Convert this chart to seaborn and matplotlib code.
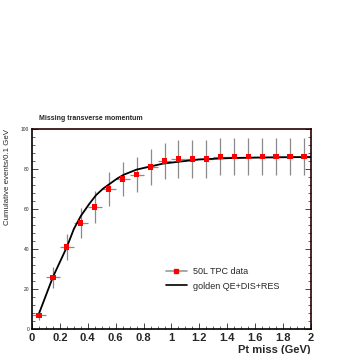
import numpy as np
import pandas as pd
import matplotlib
matplotlib.use("Agg")
import matplotlib.pyplot as plt
import seaborn as sns
from matplotlib.lines import Line2D
from matplotlib.ticker import MultipleLocator

# Data
bin_centers = [0.05, 0.15, 0.25, 0.35, 0.45, 0.55, 0.65, 0.75, 0.85, 0.95,
               1.05, 1.15, 1.25, 1.35, 1.45, 1.55, 1.65, 1.75, 1.85, 1.95]
events = [6.9, 25.8, 41.0, 53.0, 61.0, 70.0, 75.0, 77.2, 81.0, 84.0,
          85.0, 85.0, 85.0, 86.2, 86.2, 86.2, 86.2, 86.2, 86.2, 86.2]
event_err = [2.6, 5.2, 6.5, 7.5, 7.8, 8.5, 8.7, 8.7, 9.2, 9.2,
             9.4, 9.4, 9.4, 9.4, 9.4, 9.4, 9.4, 9.4, 9.4, 9.4]
bin_half_width = [0.05] * 20

curve_x = [0.05, 0.15, 0.25, 0.30, 0.35, 0.41, 0.46, 0.51, 0.56, 0.61, 0.66,
           0.75, 0.85, 0.94, 1.06, 1.2, 1.4, 1.6, 1.8, 2.0]
curve_y = [7.7, 26.0, 41.0, 50.0, 56.5, 62.5, 67.0, 70.2, 72.7, 75.2, 77.2,
           79.7, 81.3, 82.7, 83.7, 84.8, 85.4, 85.7, 85.9, 86.0]

x_ticks = [0, 0.2, 0.4, 0.6, 0.8, 1.0, 1.2, 1.4, 1.6, 1.8, 2.0]
x_tick_labels = ["0", "0.2", "0.4", "0.6", "0.8", "1", "1.2", "1.4", "1.6", "1.8", "2"]
y_ticks = [0, 20, 40, 60, 80, 100]
y_tick_labels = ["0", "20", "40", "60", "80", "100"]

data = pd.DataFrame({"pt": bin_centers, "events": events})
curve = pd.DataFrame({"pt": curve_x, "events": curve_y})

sns.set_style("ticks")
plt.rcParams["font.family"] = ["Liberation Sans", "DejaVu Sans"]

fig = plt.figure(figsize=(3.54, 3.54), dpi=100)
ax = fig.add_axes([0.0904, 0.0706, 0.788, 0.565])

# error bars
ax.errorbar(bin_centers, events, xerr=bin_half_width, yerr=event_err,
            fmt="none", ecolor="#8a8a8a", elinewidth=0.9, capsize=0, zorder=2)
# model curve
sns.lineplot(data=curve, x="pt", y="events", ax=ax, color="black",
             linewidth=1.3, zorder=3, legend=False)
# data points
sns.scatterplot(data=data, x="pt", y="events", ax=ax, marker="s", s=14,
                color="#ff0000", edgecolor="none", zorder=4, legend=False)

ax.set_xticks(x_ticks, x_tick_labels, fontweight="bold")
ax.set_yticks(y_ticks, y_tick_labels)
ax.xaxis.set_minor_locator(MultipleLocator(0.05))
ax.yaxis.set_minor_locator(MultipleLocator(4))
ax.set_xlim(0, 2)
ax.set_ylim(0, 100)
ax.tick_params(axis="both", which="both", direction="in", right=True, top=False)
ax.tick_params(axis="y", which="major", length=4, width=0.6, labelsize=3.5, pad=2)
ax.tick_params(axis="y", which="minor", length=2, width=0.5)
ax.tick_params(axis="x", which="major", length=4, width=0.6, labelsize=8, pad=3)
ax.tick_params(axis="x", which="minor", length=2, width=0.5)

for side in ["left", "bottom"]:
    ax.spines[side].set_color("black")
    ax.spines[side].set_linewidth(1.2)
for side in ["top", "right"]:
    ax.spines[side].set_color("#2a0000")
    ax.spines[side].set_linewidth(1.2)

ax.set_xlabel("Pt miss (GeV)", fontsize=8, fontweight="bold", loc="right", labelpad=1)
ax.set_ylabel("Cumulative events/0.1 GeV", fontsize=5.7, loc="top", labelpad=7)
fig.text(0.11, 0.662, "Missing transverse momentum", fontsize=5, fontweight="bold")

handles = [
    Line2D([], [], color="#9a9a9a", linewidth=1.2, marker="s", markersize=3,
           markerfacecolor="#ff0000", markeredgecolor="#ff0000"),
    Line2D([], [], color="black", linewidth=1.2),
]
ax.legend(handles, ["50L TPC data", "golden QE+DIS+RES"], loc="upper left",
          bbox_to_anchor=(0.45, 0.35), frameon=False, fontsize=6.5,
          handlelength=2.4, handletextpad=0.6, labelspacing=0.6)

fig.savefig("out.png", dpi=100, facecolor="white")
